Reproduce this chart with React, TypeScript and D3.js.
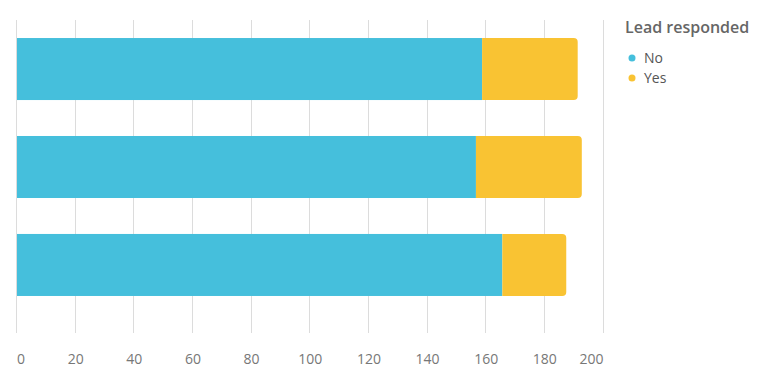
import React from "react";
import * as d3 from "d3";

const categories = ["Group 1", "Group 2", "Group 3"];
const noValues = [158.6, 156.5, 165.5];
const yesValues = [32.6, 36.1, 21.8];
const seriesNames = ["No", "Yes"];
const xTicks = [0, 20, 40, 60, 80, 100, 120, 140, 160, 180, 200];
const legendTitle = "Lead responded";

const COLORS = ["#45BFDC", "#F9C333"];
const W = 772;
const H = 385;

function roundedRightRect(x: number, y: number, w: number, h: number, r: number) {
  const rr = Math.min(r, w, h / 2);
  return `M${x},${y}H${x + w - rr}Q${x + w},${y} ${x + w},${y + rr}V${y + h - rr}Q${x + w},${y + h} ${x + w - rr},${y + h}H${x}Z`;
}

export default function App() {
  const x = d3.scaleLinear().domain([0, 200]).range([17, 603.5]);
  const y = d3
    .scaleBand<string>()
    .domain(categories)
    .range([20, 314])
    .paddingInner(0.367)
    .paddingOuter(0.184);
  const font = "'Open Sans', 'Segoe UI', sans-serif";

  return (
    <svg
      width={W}
      height={H}
      style={{ position: "absolute", left: 0, top: 0, background: "#fff" }}
      fontFamily={font}
    >
      {xTicks.map((t, i) => (
        <g key={t}>
          <line
            x1={Math.round(x(t)) - 0.5}
            x2={Math.round(x(t)) - 0.5}
            y1={20}
            y2={333}
            stroke="#dcdcdc"
            strokeWidth={1}
          />
          <text
            x={x(t)}
            y={364}
            fontSize={14}
            fill="#777"
            textAnchor={i === 0 ? "start" : i === xTicks.length - 1 ? "end" : "middle"}
          >
            {t}
          </text>
        </g>
      ))}
      {categories.map((c, i) => {
        const y0 = y(c) as number;
        const bh = y.bandwidth();
        const xNo0 = x(0);
        const xNo1 = x(noValues[i]);
        const xYes1 = x(noValues[i] + yesValues[i]);
        return (
          <g key={c}>
            <rect x={xNo0} y={y0} width={xNo1 - xNo0} height={bh} fill={COLORS[0]} />
            <path d={roundedRightRect(xNo1, y0, xYes1 - xNo1, bh, 4)} fill={COLORS[1]} />
          </g>
        );
      })}
      <text x={625} y={33} fontSize={16} fontWeight={600} fill="#666">
        {legendTitle}
      </text>
      {seriesNames.map((s, i) => (
        <g key={s}>
          <circle cx={632} cy={58 + i * 20} r={3.5} fill={COLORS[i]} />
          <text x={644} y={63 + i * 20} fontSize={14} fill="#555">
            {s}
          </text>
        </g>
      ))}
    </svg>
  );
}
